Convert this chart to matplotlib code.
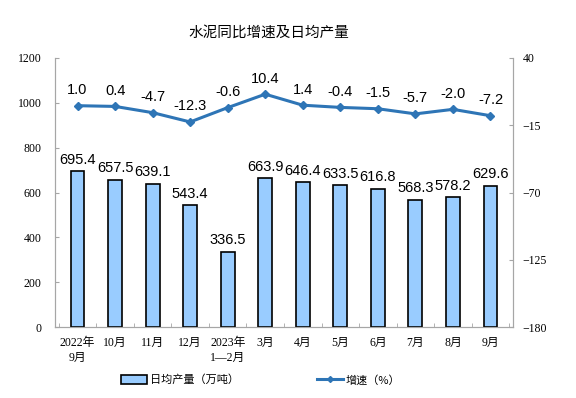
import numpy as np
import matplotlib.pyplot as plt
from matplotlib.patches import Patch
from matplotlib.lines import Line2D

plt.rcParams['font.family'] = ['Liberation Serif', 'Noto Sans CJK SC']

# --- Data ---
months = ['2022年\n9月', '10月', '11月', '12月', '2023年\n1—2月', '3月',
          '4月', '5月', '6月', '7月', '8月', '9月']
daily_output = [695.4, 657.5, 639.1, 543.4, 336.5, 663.9,
                646.4, 633.5, 616.8, 568.3, 578.2, 629.6]
growth = [1.0, 0.4, -4.7, -12.3, -0.6, 10.4,
          1.4, -0.4, -1.5, -5.7, -2.0, -7.2]

BAR_COLOR = '#99CCFF'
LINE_COLOR = '#2E75B6'
SPINE_COLOR = '#A6A6A6'
LABEL_FONT = ['Liberation Sans', 'DejaVu Sans']
CJK_FONT = ['Noto Sans CJK SC', 'DejaVu Sans']

fig = plt.figure(figsize=(5.76, 3.98), dpi=100)
ax = fig.add_axes([55 / 576, 1 - 327 / 398, (513 - 55) / 576, (327 - 58) / 398])
ax2 = ax.twinx()

x = np.arange(len(months))

# bars
ax.bar(x, daily_output, width=0.37, color=BAR_COLOR, edgecolor='black', linewidth=1.2, zorder=3)
for xi, v in zip(x, daily_output):
    ax.text(xi, v + 20, f'{v:.1f}', ha='center', va='bottom', fontsize=10.5,
            family=LABEL_FONT)

# growth line
ax2.plot(x, growth, color=LINE_COLOR, linewidth=2.2, marker='D', markersize=4,
         zorder=4)
for xi, v in zip(x, growth):
    ax2.text(xi, v + 7, f'{v:.1f}', ha='center', va='bottom', fontsize=10.5,
             family=LABEL_FONT)

ax.set_xlim(-0.6, len(months) - 0.4)
ax.set_ylim(0, 1200)
ax.set_yticks(range(0, 1201, 200))
ax2.set_ylim(-180, 40)
ax2.set_yticks([40, -15, -70, -125, -180])

ax.set_xticks(x)
ax.set_xticklabels(months, fontsize=8.5, family=['Liberation Serif', 'Noto Sans CJK SC'],
                   linespacing=1.35)
ax.set_xticks(np.arange(-0.5, len(months), 1.0), minor=True)
ax.tick_params(axis='x', which='major', length=0, pad=7)
ax.tick_params(axis='x', which='minor', length=3, color=SPINE_COLOR, direction='in')

for a in (ax, ax2):
    a.spines['top'].set_visible(False)
    for s in ('left', 'right', 'bottom'):
        a.spines[s].set_color(SPINE_COLOR)
ax.tick_params(axis='y', labelsize=8.5, color=SPINE_COLOR, length=3, direction='in', pad=9.5)
ax2.tick_params(axis='y', labelsize=8.5, color=SPINE_COLOR, length=3, direction='in', pad=7)

fig.text(269 / 576, 1 - 33 / 398, '水泥同比增速及日均产量', ha='center', va='center',
         fontsize=10.5, family=CJK_FONT)

handles = [
    Patch(facecolor=BAR_COLOR, edgecolor='black', linewidth=1.2),
    Line2D([0], [0], color=LINE_COLOR, linewidth=2.2, marker='D', markersize=3),
]
fig.legend(handles, ['日均产量（万吨）', '增速（%）'], loc='center',
           bbox_to_anchor=(261 / 576, 1 - 380 / 398), ncol=2, frameon=False,
           prop={'family': CJK_FONT, 'size': 8}, columnspacing=7.0,
           handlelength=2.3, handleheight=0.8, handletextpad=0.3)

fig.savefig('out.png', dpi=100)
